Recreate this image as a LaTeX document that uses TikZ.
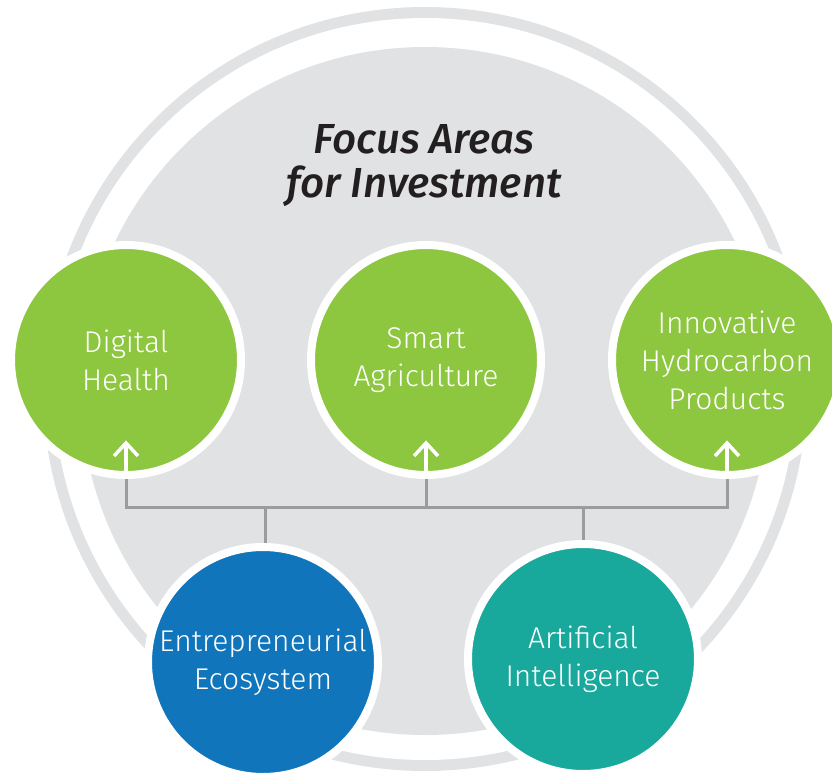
\documentclass[tikz,border=0pt]{standalone}
\usepackage{fontspec}
\newfontfamily\lightfont{Fira Sans Light}
\newfontfamily\titlefont{Fira Sans Medium Italic}
\definecolor{ringgrey}{HTML}{E1E2E3}
\definecolor{linegrey}{HTML}{9B9C9E}
\definecolor{leaf}{HTML}{8DC63F}
\definecolor{ocean}{HTML}{1075BB}
\definecolor{tealc}{HTML}{19A89C}
\definecolor{ink}{HTML}{231F20}
\pgfdeclarelayer{back}
\pgfdeclarelayer{mid}
\pgfsetlayers{back,mid,main}
\tikzset{
  area/.style={circle, draw=white, line width=8pt, minimum size=230pt, inner sep=0pt,
    text=white, align=center, font=\lightfont\fontsize{30}{38}\selectfont},
  link/.style={draw=linegrey, line width=3pt},
  uparrow/.style={draw=white, line width=3.5pt},
}
\begin{document}
\begin{tikzpicture}[x=1pt,y=-1pt]
\useasboundingbox (0,0) rectangle (832,778);
\clip (0,0) rectangle (832,778);
\begin{pgfonlayer}{back}
\fill[ringgrey] (425,389) circle[radius=382pt];
\fill[white] (425,389) circle[radius=371pt];
\fill[ringgrey] (425,391) circle[radius=344pt];
\end{pgfonlayer}

\node[font=\titlefont\fontsize{42}{44}\selectfont, text=ink, align=center] (title) at (424,166) {Focus Areas\\for Investment};

\node[area, fill=leaf] (dh) at (126,360) {Digital\\Health};
\node[area, fill=leaf] (sa) at (426,360) {Smart\\Agriculture};
\node[area, fill=leaf] (ih) at (727,360) {Innovative\\Hydrocarbon\\Products};
\node[area, fill=ocean] (ee) at (263,662) {Entrepreneurial\\Ecosystem};
\node[area, fill=tealc] (ai) at (583,659) {Artificial\\Intelligence};

\coordinate (j1) at (126,507);
\coordinate (j3) at (727,507);
\coordinate (j2) at (426,507);
\coordinate (b1) at (265,507);
\coordinate (b2) at (583,507);

\begin{pgfonlayer}{mid}
\draw[link] (dh.south) -- (j1) -- (j3) -- (ih.south);
\draw[link] (sa.south) -- (j2);
\draw[link] (b1) -- (b1 |- ee.north);
\draw[link] (b2) -- (b2 |- ai.north);
\end{pgfonlayer}

\foreach \n/\x in {dh/126, sa/426, ih/727}{
  \coordinate (tip\n) at (\x,443);
  \draw[uparrow] (\n.south) ++(0,-4) -- (tip\n);
  \draw[uparrow, line join=miter] (\x-12,456) -- (tip\n) -- (\x+12,456);
}
\end{tikzpicture}
\end{document}
